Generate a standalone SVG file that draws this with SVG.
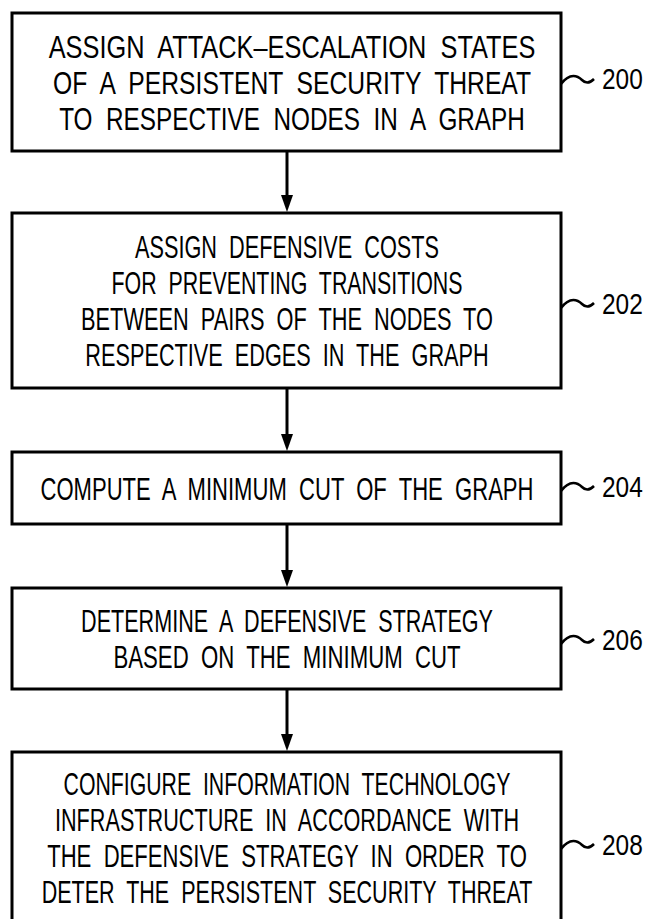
<svg xmlns="http://www.w3.org/2000/svg" width="649" height="919" viewBox="0 0 649 919" xml:space="preserve">
<defs>
<style>
.box{fill:#fff;stroke:#000;stroke-width:3}
.t{font-family:"Liberation Sans",Arial,sans-serif;font-size:32px;fill:#000;text-anchor:middle;white-space:pre}
.lbl{font-family:"Liberation Sans",Arial,sans-serif;font-size:30px;fill:#000}
.conn{stroke:#000;stroke-width:3;fill:none}
.sq{stroke:#000;stroke-width:2.5;fill:none}
</style>
</defs>
<rect width="649" height="919" fill="#fff"/>
<g id="connectors">
<line class="conn" x1="287" y1="151" x2="287" y2="200"/>
<path d="M281,195 L293,195 L287,212 Z"/>
<line class="conn" x1="287" y1="388" x2="287" y2="440"/>
<path d="M281,434 L293,434 L287,451 Z"/>
<line class="conn" x1="287" y1="524" x2="287" y2="576"/>
<path d="M281,570 L293,570 L287,587 Z"/>
<line class="conn" x1="287" y1="689" x2="287" y2="740"/>
<path d="M281,734 L293,734 L287,751 Z"/>
</g>
<g id="n200">
<rect class="box" x="12" y="13" width="549" height="138"/>
<text class="t" transform="translate(292,58) scale(0.78,1)" x="0" y="0" textLength="624" lengthAdjust="spacingAndGlyphs">ASSIGN  ATTACK–ESCALATION  STATES</text>
<text class="t" transform="translate(292,94) scale(0.78,1)" x="0" y="0" textLength="613" lengthAdjust="spacingAndGlyphs">OF  A  PERSISTENT  SECURITY  THREAT</text>
<text class="t" transform="translate(292,130) scale(0.78,1)" x="0" y="0" textLength="597" lengthAdjust="spacingAndGlyphs">TO  RESPECTIVE  NODES  IN  A  GRAPH</text>
<path class="sq" d="M561,84 C570,72 578,76 582,80 C586,84 590,83 594,79"/>
<text class="lbl" transform="translate(602,89) scale(0.8,1)" x="0" y="0" textLength="51" lengthAdjust="spacingAndGlyphs">200</text>
</g>
<g id="n202">
<rect class="box" x="12" y="213" width="549" height="175"/>
<text class="t" transform="translate(287,258) scale(0.78,1)" x="0" y="0" textLength="390" lengthAdjust="spacingAndGlyphs">ASSIGN  DEFENSIVE  COSTS</text>
<text class="t" transform="translate(287,294) scale(0.78,1)" x="0" y="0" textLength="450" lengthAdjust="spacingAndGlyphs">FOR  PREVENTING  TRANSITIONS</text>
<text class="t" transform="translate(287,330) scale(0.78,1)" x="0" y="0" textLength="528" lengthAdjust="spacingAndGlyphs">BETWEEN  PAIRS  OF  THE  NODES  TO</text>
<text class="t" transform="translate(287,366) scale(0.78,1)" x="0" y="0" textLength="517" lengthAdjust="spacingAndGlyphs">RESPECTIVE  EDGES  IN  THE  GRAPH</text>
<path class="sq" d="M561,308 C570,296 578,300 582,304 C586,308 590,307 594,303"/>
<text class="lbl" transform="translate(602,314) scale(0.8,1)" x="0" y="0" textLength="51" lengthAdjust="spacingAndGlyphs">202</text>
</g>
<g id="n204">
<rect class="box" x="12" y="452" width="549" height="72"/>
<text class="t" transform="translate(287,500) scale(0.78,1)" x="0" y="0" textLength="632" lengthAdjust="spacingAndGlyphs">COMPUTE  A  MINIMUM  CUT  OF  THE  GRAPH</text>
<path class="sq" d="M561,491 C570,479 578,483 582,487 C586,491 590,490 594,486"/>
<text class="lbl" transform="translate(602,497) scale(0.8,1)" x="0" y="0" textLength="51" lengthAdjust="spacingAndGlyphs">204</text>
</g>
<g id="n206">
<rect class="box" x="12" y="588" width="549" height="101"/>
<text class="t" transform="translate(287,632) scale(0.78,1)" x="0" y="0" textLength="528" lengthAdjust="spacingAndGlyphs">DETERMINE  A  DEFENSIVE  STRATEGY</text>
<text class="t" transform="translate(287,668) scale(0.78,1)" x="0" y="0" textLength="445" lengthAdjust="spacingAndGlyphs">BASED  ON  THE  MINIMUM  CUT</text>
<path class="sq" d="M561,644 C570,632 578,636 582,640 C586,644 590,643 594,639"/>
<text class="lbl" transform="translate(602,650) scale(0.8,1)" x="0" y="0" textLength="51" lengthAdjust="spacingAndGlyphs">206</text>
</g>
<g id="n208">
<rect class="box" x="12" y="752" width="549" height="175"/>
<text class="t" transform="translate(287,795) scale(0.78,1)" x="0" y="0" textLength="573" lengthAdjust="spacingAndGlyphs">CONFIGURE  INFORMATION  TECHNOLOGY</text>
<text class="t" transform="translate(287,831) scale(0.78,1)" x="0" y="0" textLength="595" lengthAdjust="spacingAndGlyphs">INFRASTRUCTURE  IN  ACCORDANCE  WITH</text>
<text class="t" transform="translate(287,867) scale(0.78,1)" x="0" y="0" textLength="615" lengthAdjust="spacingAndGlyphs">THE  DEFENSIVE  STRATEGY  IN  ORDER  TO</text>
<text class="t" transform="translate(287,903) scale(0.78,1)" x="0" y="0" textLength="629" lengthAdjust="spacingAndGlyphs">DETER  THE  PERSISTENT  SECURITY  THREAT</text>
<path class="sq" d="M561,849 C570,837 578,841 582,845 C586,849 590,848 594,844"/>
<text class="lbl" transform="translate(602,855) scale(0.8,1)" x="0" y="0" textLength="51" lengthAdjust="spacingAndGlyphs">208</text>
</g>
</svg>
